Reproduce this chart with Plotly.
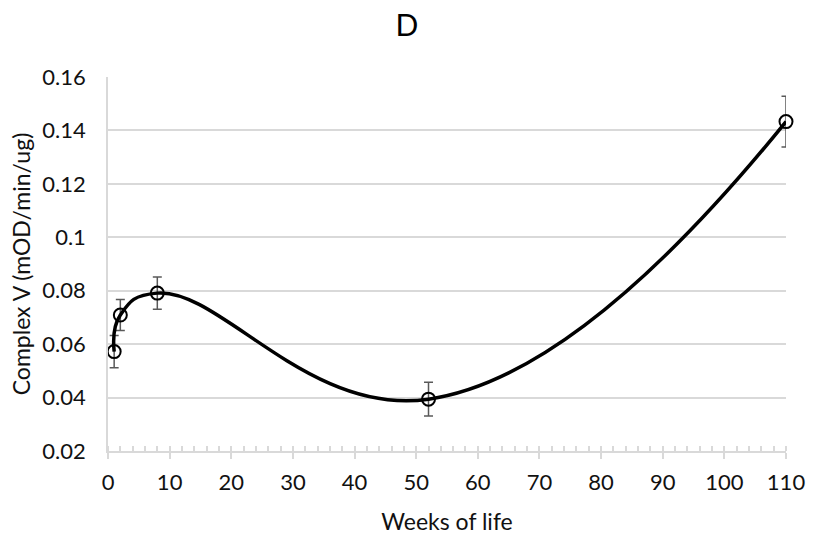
import plotly.graph_objects as go

weeks = [1, 2, 8, 52, 110]
complex_v = [0.0572, 0.0709, 0.0791, 0.0394, 0.1433]
err = [0.0060, 0.0058, 0.0060, 0.0063, 0.0095]

x_ticks = [0, 10, 20, 30, 40, 50, 60, 70, 80, 90, 100, 110]
y_ticks = [0.02, 0.04, 0.06, 0.08, 0.10, 0.12, 0.14, 0.16]
y_ticktext = ["0.02", "0.04", "0.06", "0.08", "0.1", "0.12", "0.14", "0.16"]

FONT = "Lato"
GRID = "#d9d9d9"

fig = go.Figure()
fig.add_trace(go.Scatter(
    x=weeks, y=complex_v,
    mode="lines+markers",
    line=dict(color="black", width=3.5, shape="spline", smoothing=1.3),
    marker=dict(symbol="circle-open", size=13, color="black", line=dict(width=2)),
    error_y=dict(type="data", array=err, visible=True, color="#595959", thickness=1.5, width=4.5),
    showlegend=False,
    cliponaxis=False,
))

fig.update_layout(
    width=814, height=539,
    margin=dict(l=108, r=28, t=77, b=88, autoexpand=False),
    paper_bgcolor="white", plot_bgcolor="white",
    font=dict(family=FONT, size=22, color="#111111"),
    title=dict(text="D", x=0.5, xref="container", y=0.953, yanchor="middle",
               font=dict(family=FONT, size=30, color="black")),
    xaxis=dict(
        range=[0, 110], tickvals=x_ticks, ticktext=[str(v) for v in x_ticks],
        automargin=False,
        showgrid=False, zeroline=False,
        showline=True, linecolor=GRID, linewidth=1.5,
        ticks="outside", ticklen=6, tickcolor=GRID, tickwidth=1.5,
        ticklabelstandoff=5,
        minor=dict(dtick=2, ticks="inside", ticklen=5, tickcolor=GRID, tickwidth=1.5, showgrid=False),
        tickfont=dict(size=22),
        title=dict(text="Weeks of life", font=dict(size=23), standoff=20),
    ),
    yaxis=dict(
        range=[0.02, 0.16], tickvals=y_ticks, ticktext=y_ticktext,
        automargin=False,
        showgrid=True, gridcolor=GRID, gridwidth=1.5,
        zeroline=False, showline=True, linecolor=GRID, linewidth=1.5,
        ticks="", ticklabelstandoff=16,
        tickfont=dict(size=22),
        title=dict(text="Complex V (mOD/min/ug)", font=dict(size=23), standoff=5),
    ),
)

fig.write_html("out.html")
